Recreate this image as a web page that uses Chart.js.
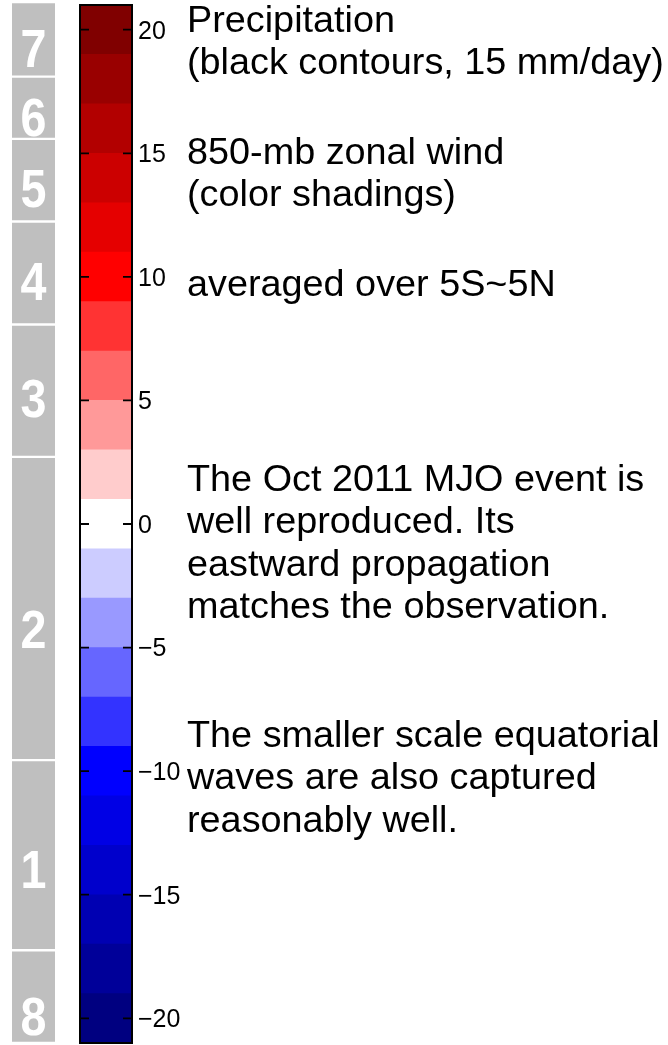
<!DOCTYPE html>
<html>
<head>
<meta charset="utf-8">
<script src="https://cdn.jsdelivr.net/npm/chart.js@4/dist/chart.umd.min.js"></script>
<style>
  html, body { margin: 0; padding: 0; background: #fff; width: 668px; height: 1045px; overflow: hidden; }
  #phaseChart { position: absolute; left: 12px; top: 0; }
  #windChart { position: absolute; left: 70px; top: 0; }
  .note {
    position: absolute; left: 187px;
    font-family: "Liberation Sans", Arial, Helvetica, sans-serif;
    font-size: 37.8px; line-height: 42.3px; color: #000; white-space: nowrap;
  }
</style>
</head>
<body>
<canvas id="phaseChart" width="43" height="1045"></canvas>
<canvas id="windChart" width="130" height="1045"></canvas>

<div class="note" style="top:-2px">Precipitation<br>(black contours, 15 mm/day)</div>
<div class="note" style="top:130px">850-mb zonal wind<br>(color shadings)</div>
<div class="note" style="top:262px">averaged over 5S~5N</div>
<div class="note" style="top:457px">The Oct 2011 MJO event is<br>well reproduced. Its<br>eastward propagation<br>matches the observation.</div>
<div class="note" style="top:713px">The smaller scale equatorial<br>waves are also captured<br>reasonably well.</div>

<script>
// MJO phases along the time axis (days, counted upward from the bottom)
const phaseNames   = ['8', '1', '2', '3', '4', '5', '6', '7'];
const phaseStart   = [0, 8.2, 25.0, 51.8, 63.5, 72.6, 79.9, 85.4];
const phaseEnd     = [8.2, 25.0, 51.8, 63.5, 72.6, 79.9, 85.4, 92];
const phaseLabelAt = [2.4, 15.4, 36.6, 57.0, 67.3, 75.6, 81.8, 87.9];
const dayRange     = [0, 92];

// 850-mb zonal wind colour levels (m/s) and their fills
const windLevels = [-21, -19, -17, -15, -13, -11, -9, -7, -5, -3, -1,
                    1, 3, 5, 7, 9, 11, 13, 15, 17, 19, 21];
const windColors = ['#000080', '#000099', '#0000b2', '#0000cc', '#0000e5',
                    '#0000ff', '#3333ff', '#6666ff', '#9999ff', '#ccccff',
                    '#ffffff',
                    '#ffcccc', '#ff9999', '#ff6666', '#ff3333', '#ff0000',
                    '#e50000', '#cc0000', '#b20000', '#990000', '#800000'];
const windTicks = [-20, -15, -10, -5, 0, 5, 10, 15, 20];

const FONT = '"Liberation Sans", Arial, Helvetica, sans-serif';

// Phase numbers, clipped to their own boxes
const phaseLabels = {
  id: 'phaseLabels',
  afterDatasetsDraw(chart) {
    const ctx = chart.ctx;
    const yScale = chart.scales.y;
    chart.data.datasets.forEach((ds, i) => {
      const bar = chart.getDatasetMeta(i).data[0];
      const p = bar.getProps(['x', 'y', 'base', 'width'], true);
      const top = Math.min(p.y, p.base), bottom = Math.max(p.y, p.base);
      const cy = yScale.getPixelForValue(phaseLabelAt[i]);
      ctx.save();
      ctx.beginPath();
      ctx.rect(p.x - p.width / 2, top + 1.5, p.width, bottom - top - 3);
      ctx.clip();
      ctx.translate(p.x, cy);
      ctx.scale(0.88, 1);
      ctx.fillStyle = '#ffffff';
      ctx.font = 'bold 53px ' + FONT;
      ctx.textAlign = 'center';
      ctx.textBaseline = 'alphabetic';
      ctx.fillText(ds.label, 0, 0.358 * 53);
      ctx.restore();
    });
  }
};

new Chart(document.getElementById('phaseChart'), {
  type: 'bar',
  data: {
    labels: ['phase'],
    datasets: phaseNames.map((name, i) => ({
      label: name,
      data: [[phaseStart[i], phaseEnd[i]]],
      backgroundColor: '#bfbfbf',
      borderColor: '#ffffff',
      borderWidth: { top: 1.5, bottom: 1.5, left: 0, right: 0 },
      borderSkipped: false,
      grouped: false,
      barPercentage: 1,
      categoryPercentage: 1
    }))
  },
  options: {
    responsive: false,
    animation: false,
    layout: { padding: { top: 2, bottom: 2, left: 0, right: 0 } },
    scales: {
      x: { display: false },
      y: { display: false, min: dayRange[0], max: dayRange[1] }
    },
    plugins: { legend: { display: false }, tooltip: { enabled: false } }
  },
  plugins: [phaseLabels]
});

// Frame and inward tick marks of the colour bar
const barFrame = {
  id: 'barFrame',
  afterDraw(chart) {
    const { ctx, chartArea: a } = chart;
    const yScale = chart.scales.y;
    ctx.save();
    ctx.strokeStyle = '#000';
    ctx.lineWidth = 1.8;
    windTicks.forEach(v => {
      const y = yScale.getPixelForValue(v);
      ctx.beginPath();
      ctx.moveTo(a.left, y); ctx.lineTo(a.left + 9, y);
      ctx.moveTo(a.right - 9, y); ctx.lineTo(a.right, y);
      ctx.stroke();
    });
    ctx.lineWidth = 2;
    ctx.strokeRect(a.left, a.top, a.right - a.left, a.bottom - a.top);
    ctx.restore();
  }
};

new Chart(document.getElementById('windChart'), {
  type: 'bar',
  data: {
    labels: ['u850'],
    datasets: windColors.map((c, i) => ({
      label: windLevels[i] + ' to ' + windLevels[i + 1],
      data: [[windLevels[i], windLevels[i + 1]]],
      backgroundColor: c,
      borderWidth: 0,
      grouped: false,
      barPercentage: 1,
      categoryPercentage: 1
    }))
  },
  options: {
    responsive: false,
    animation: false,
    layout: { padding: { top: 5, bottom: 2, left: 10, right: 0 } },
    scales: {
      x: { display: false },
      y: {
        position: 'right',
        min: windLevels[0],
        max: windLevels[windLevels.length - 1],
        grid: { display: false, drawTicks: false },
        border: { display: false },
        afterFit(scale) {
          scale.width = 68;
          scale.paddingTop = 0;
          scale.paddingBottom = 0;
        },
        afterBuildTicks(scale) { scale.ticks = windTicks.map(v => ({ value: v })); },
        ticks: {
          color: '#000',
          padding: 6,
          labelOffset: 2,
          font: { family: FONT, size: 25 },
          callback: v => (v < 0 ? '\u2212' + Math.abs(v) : String(v))
        }
      }
    },
    plugins: { legend: { display: false }, tooltip: { enabled: false } }
  },
  plugins: [barFrame]
});
</script>
</body>
</html>
